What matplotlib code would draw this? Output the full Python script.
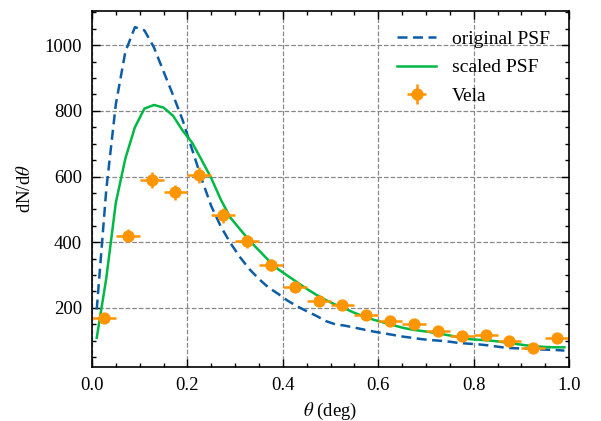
import matplotlib.pyplot as plt
import numpy as np

plt.rcParams['font.family'] = ['Liberation Serif', 'DejaVu Serif']
plt.rcParams['mathtext.fontset'] = 'stix'

# PSF model curves, sampled every 0.02 deg
theta = [0.01, 0.03, 0.05, 0.07, 0.09, 0.11, 0.13, 0.15, 0.17, 0.19,
         0.21, 0.23, 0.25, 0.27, 0.29, 0.31, 0.33, 0.35, 0.37, 0.39,
         0.41, 0.43, 0.45, 0.47, 0.49, 0.51, 0.53, 0.55, 0.57, 0.59,
         0.61, 0.63, 0.65, 0.67, 0.69, 0.71, 0.73, 0.75, 0.77, 0.79,
         0.81, 0.83, 0.85, 0.87, 0.89, 0.91, 0.93, 0.95, 0.97, 0.99]
psf_orig = [195, 560, 820, 980, 1055, 1045, 993, 920, 848, 772,
            682, 592, 510, 448, 398, 355, 318, 288, 262, 243,
            222, 205, 190, 176, 160, 150, 146, 140, 134, 128,
            123, 118, 113, 109, 105, 102, 100, 97, 93, 91,
            89, 86, 82, 78, 77, 76, 74, 73, 72, 70]
psf_scaled = [109, 290, 520, 655, 750, 807, 818, 810, 785, 740,
              703, 650, 595, 530, 475, 440, 405, 375, 345, 318,
              298, 278, 258, 240, 224, 210, 198, 185, 174, 164,
              156, 148, 140, 134, 130, 126, 121, 116, 110, 105,
              103, 101, 98, 94, 90, 86, 83, 81, 80, 80]

# Vela counts
vela_x = [0.025, 0.075, 0.125, 0.175, 0.225, 0.275, 0.325, 0.375, 0.425, 0.475,
          0.525, 0.575, 0.625, 0.675, 0.725, 0.775, 0.825, 0.875, 0.925, 0.975]
vela_y = [170, 420, 590, 552, 605, 482, 403, 330, 263, 220,
          210, 177, 160, 152, 130, 114, 116, 98, 78, 108]
vela_yerr = [13, 20, 24, 23, 25, 22, 20, 18, 16, 15,
             14, 13, 13, 12, 11, 11, 11, 10, 9, 10]
vela_xerr = [0.025] * len(vela_x)

fig = plt.figure(figsize=(6.01, 4.21), dpi=100)
ax = fig.add_axes([0.153, 0.128, 0.794, 0.846])

ax.plot(theta, psf_orig, '--', color='#0C5DA5', lw=1.8, dashes=(4, 2.2), label='original PSF')
ax.plot(theta, psf_scaled, '-', color='#00B945', lw=1.8, label='scaled PSF')
ax.errorbar(vela_x, vela_y, xerr=vela_xerr, yerr=vela_yerr, fmt='o', color='#FF9500',
            ms=7.8, elinewidth=1.8, capsize=0, label='Vela')

ax.set_xlim(0, 1)
ax.set_xticks([0, 0.2, 0.4, 0.6, 0.8, 1.0])
ax.set_yticks([200, 400, 600, 800, 1000])
ax.xaxis.set_minor_locator(plt.MultipleLocator(0.05))
ax.yaxis.set_minor_locator(plt.MultipleLocator(50))
ax.tick_params(which='both', direction='in', top=True, right=True, labelsize=13.5, width=1.0, pad=7)
ax.tick_params(which='major', length=6)
ax.tick_params(which='minor', length=3)
for s in ax.spines.values():
    s.set_linewidth(1.2)
ax.grid(True, which='major', ls='--', color='#888888', lw=0.9)

ax.set_xlabel(r'$\theta\ $(deg)', fontsize=13.5, labelpad=5)
ax.set_ylabel(r'dN/d$\theta$', fontsize=13.5, labelpad=8)
ax.legend(loc='upper right', frameon=False, fontsize=14, handlelength=2.0,
          handletextpad=0.8, labelspacing=0.55, borderaxespad=0.6)

fig.savefig('out.png', dpi=100)
